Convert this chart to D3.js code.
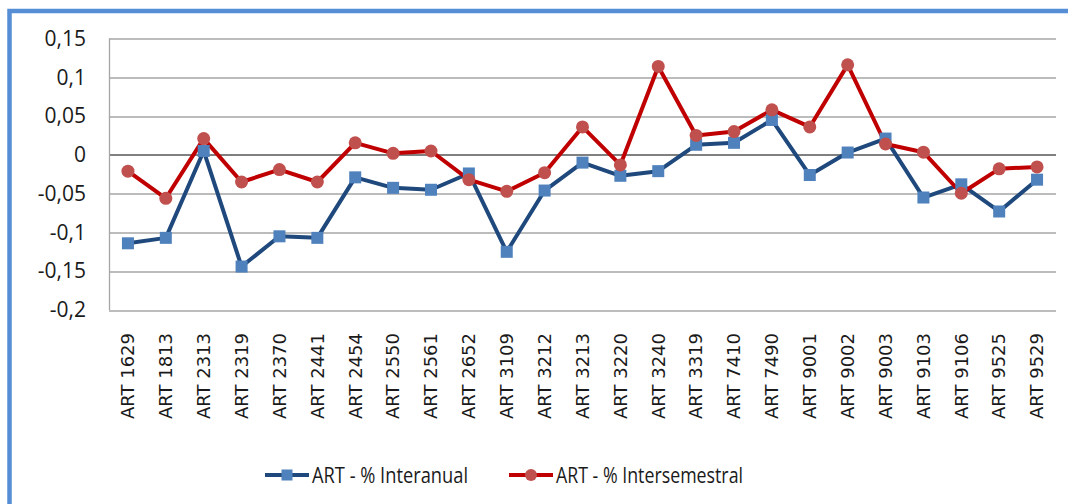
<!DOCTYPE html>
<html>
<head>
<meta charset="utf-8">
<script src="https://cdn.jsdelivr.net/npm/d3@7"></script>
<style>
  body { margin: 0; background: #fff; }
  svg { display: block; }
</style>
</head>
<body>
<div id="app"></div>
<script>
// data
const categories = ["ART 1629", "ART 1813", "ART 2313", "ART 2319", "ART 2370", "ART 2441", "ART 2454",
  "ART 2550", "ART 2561", "ART 2652", "ART 3109", "ART 3212", "ART 3213", "ART 3220", "ART 3240",
  "ART 3319", "ART 7410", "ART 7490", "ART 9001", "ART 9002", "ART 9003", "ART 9103", "ART 9106",
  "ART 9525", "ART 9529"];
const interanual = [-0.114, -0.107, 0.005, -0.144, -0.105, -0.107, -0.029, -0.0425, -0.045, -0.024,
  -0.125, -0.046, -0.010, -0.027, -0.021, 0.013, 0.0155, 0.045, -0.026, 0.003, 0.021, -0.055,
  -0.038, -0.073, -0.032];
const intersemestral = [-0.021, -0.056, 0.021, -0.035, -0.019, -0.035, 0.0155, 0.002, 0.005, -0.032,
  -0.047, -0.023, 0.036, -0.013, 0.114, 0.025, 0.030, 0.058, 0.036, 0.116, 0.014, 0.0034,
  -0.0495, -0.018, -0.0155];
const yTicks = [0.15, 0.1, 0.05, 0, -0.05, -0.1, -0.15, -0.2];
const seriesNames = ["ART - % Interanual", "ART - % Intersemestral"];

// sizing
const width = 1068;
const height = 504;
const margin = {left: 109, right: 12, top: 38.5, bottom: 194};
const innerW = width - margin.left - margin.right;
const innerH = height - margin.top - margin.bottom;

const svg = d3.select("#app")
  .append("svg")
    .attr("width", width)
    .attr("height", height);

// blue outer frame (runs off the picture on right and bottom)
svg.append("rect")
  .attr("x", 9.5).attr("y", 11)
  .attr("width", 1100).attr("height", 600)
  .attr("fill", "none")
  .attr("stroke", "#558ed5")
  .attr("stroke-width", 4.5);

const g = svg.append("g")
  .attr("transform", "translate(" + margin.left + "," + margin.top + ")");

const x = d3.scaleBand()
  .domain(categories)
  .range([0, innerW]);

const y = d3.scaleLinear()
  .domain([-0.2, 0.15])
  .range([innerH, 0]);

// gridlines
g.append("g")
  .selectAll("line")
  .data(yTicks)
  .enter().append("line")
    .attr("x1", 0).attr("x2", innerW)
    .attr("y1", d => Math.round(y(d)) + 0.5)
    .attr("y2", d => Math.round(y(d)) + 0.5)
    .attr("stroke", d => d === 0 ? "#808080" : "#a6a6a6")
    .attr("stroke-width", d => d === 0 ? 2 : 1.3);

// left axis line
g.append("line")
  .attr("x1", 0.5).attr("x2", 0.5)
  .attr("y1", y(0.15)).attr("y2", y(-0.2))
  .attr("stroke", "#a6a6a6")
  .attr("stroke-width", 1.3);

// y axis labels
const fmt = d => String(d).replace(".", ",");
g.append("g")
  .call(d3.axisLeft(y).tickValues(yTicks).tickFormat(fmt).tickSize(0).tickPadding(23))
  .call(a => a.select(".domain").remove())
  .selectAll("text")
    .attr("fill", "#1a1a1a")
    .style("font-family", "'Open Sans', 'DejaVu Sans', sans-serif")
    .style("font-size", "21px");

// x axis labels (rotated)
g.append("g")
  .attr("transform", "translate(0," + innerH + ")")
  .call(d3.axisBottom(x).tickSize(0))
  .call(a => a.select(".domain").remove())
  .selectAll("text")
    .attr("transform", "rotate(-90)")
    .attr("x", -23)
    .attr("y", 0)
    .attr("dy", "0.35em")
    .attr("text-anchor", "end")
    .attr("fill", "#1a1a1a")
    .style("font-family", "'DejaVu Sans', sans-serif")
    .style("font-size", "18px");

const cx = d => x(d) + x.bandwidth() / 2;
const line = d3.line()
  .x(d => cx(d.cat))
  .y(d => y(d.v));

const blueData = categories.map((c, i) => ({cat: c, v: interanual[i]}));
const redData = categories.map((c, i) => ({cat: c, v: intersemestral[i]}));

// interanual
g.append("path")
  .datum(blueData)
  .attr("d", line)
  .attr("fill", "none")
  .attr("stroke", "#1f497d")
  .attr("stroke-width", 4)
  .attr("stroke-linejoin", "round");

// intersemestral
g.append("path")
  .datum(redData)
  .attr("d", line)
  .attr("fill", "none")
  .attr("stroke", "#c00000")
  .attr("stroke-width", 4)
  .attr("stroke-linejoin", "round");

g.append("g")
  .selectAll("rect")
  .data(blueData)
  .enter().append("rect")
    .attr("x", d => cx(d.cat) - 6)
    .attr("y", d => y(d.v) - 6)
    .attr("width", 12).attr("height", 12)
    .attr("fill", "#4f81bd");

g.append("g")
  .selectAll("circle")
  .data(redData)
  .enter().append("circle")
    .attr("cx", d => cx(d.cat))
    .attr("cy", d => y(d.v))
    .attr("r", 6.5)
    .attr("fill", "#c0504d");

// legend
const legend = svg.append("g").attr("transform", "translate(0,475)");
const legendItems = [
  {name: seriesNames[0], x0: 265, line: "#1f497d", mark: "#4f81bd", shape: "rect", textW: 156},
  {name: seriesNames[1], x0: 509, line: "#c00000", mark: "#c0504d", shape: "circle", textW: 187}
];
legendItems.forEach(it => {
  legend.append("line")
    .attr("x1", it.x0).attr("x2", it.x0 + 44)
    .attr("y1", 0).attr("y2", 0)
    .attr("stroke", it.line)
    .attr("stroke-width", 4);
  if (it.shape === "rect") {
    legend.append("rect")
      .attr("x", it.x0 + 22 - 5.5).attr("y", -5.5)
      .attr("width", 11).attr("height", 11)
      .attr("fill", it.mark);
  } else {
    legend.append("circle")
      .attr("cx", it.x0 + 22).attr("cy", 0)
      .attr("r", 6)
      .attr("fill", it.mark);
  }
  legend.append("text")
    .attr("x", it.x0 + 47)
    .attr("y", 0)
    .attr("dy", "0.35em")
    .attr("textLength", it.textW)
    .attr("lengthAdjust", "spacingAndGlyphs")
    .attr("fill", "#1a1a1a")
    .style("font-family", "'Open Sans', 'DejaVu Sans', sans-serif")
    .style("font-size", "22px")
    .text(it.name);
});
</script>
</body>
</html>
